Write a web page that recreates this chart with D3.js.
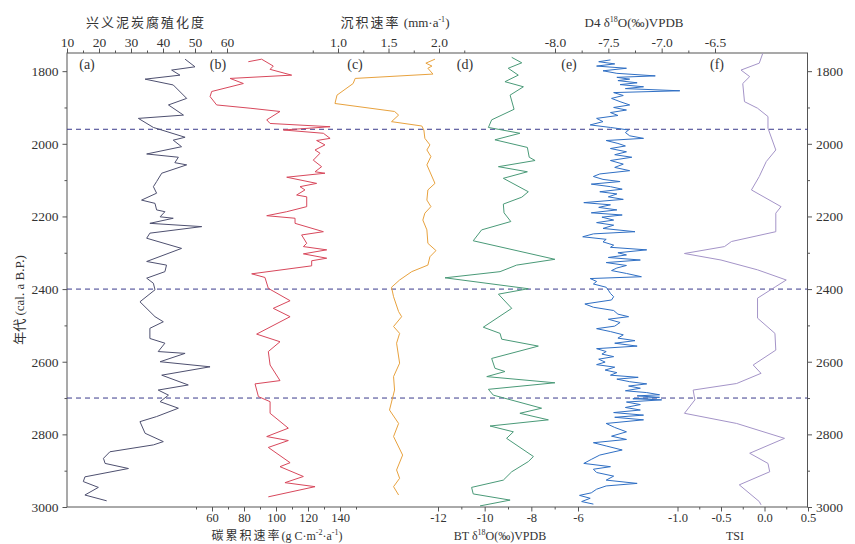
<!DOCTYPE html>
<html>
<head>
<meta charset="utf-8">
<script src="https://cdn.jsdelivr.net/npm/d3@7"></script>
<style>
  body { margin: 0; background: #fff; }
  text { font-family: 'Liberation Serif', 'Times New Roman', 'Noto Sans CJK SC', serif; fill: #333; }
</style>
</head>
<body>
<div class="canvas"></div>
<script>
const width = 855
const height = 544

// [year (cal. a B.P.), value]
const humification = [[1767,46.9],[1788,50.0],[1797,42.7],[1811,45.3],[1822,34.4],[1838,43.2],[1875,47.4],[1893,41.7],[1921,46.4],[1930,32.3],[1955,37.0],[1982,46.9],[1990,43.2],[2008,45.8],[2028,34.9],[2037,44.8],[2052,43.7],[2058,47.4],[2081,39.6],[2104,38.0],[2118,37.0],[2136,38.0],[2155,33.3],[2164,37.5],[2182,38.0],[2187,40.6],[2201,39.1],[2205,43.2],[2219,35.9],[2228,52.1],[2246,35.9],[2260,34.9],[2288,45.8],[2324,34.9],[2334,41.1],[2352,40.6],[2370,34.9],[2384,37.0],[2402,37.5],[2435,32.8],[2476,37.5],[2490,40.1],[2508,35.9],[2536,35.9],[2549,40.6],[2572,38.5],[2577,46.9],[2600,39.1],[2614,54.7],[2637,39.6],[2664,47.9],[2678,38.5],[2692,41.7],[2710,39.1],[2728,44.8],[2751,38.0],[2765,32.8],[2797,34.4],[2820,40.1],[2829,37.0],[2848,23.4],[2866,21.4],[2880,21.9],[2894,29.2],[2917,15.6],[2930,15.1],[2946,19.8],[2967,15.6],[2983,22.4]]

const carbonRate = [[1774,82.7],[1767,91.0],[1786,98.3],[1795,96.3],[1811,109.8],[1820,71.3],[1834,79.6],[1856,59.8],[1870,58.8],[1893,62.9],[1902,83.8],[1911,102.5],[1934,94.2],[1944,96.3],[1953,133.8],[1962,104.6],[1971,129.6],[1985,133.8],[1991,125.4],[2003,130.6],[2017,124.4],[2026,127.5],[2045,123.3],[2063,128.5],[2077,124.4],[2081,130.6],[2092,106.7],[2109,125.4],[2118,115.0],[2127,118.1],[2141,112.9],[2146,119.2],[2173,119.2],[2187,106.7],[2198,94.2],[2205,111.9],[2219,111.9],[2242,129.6],[2251,116.0],[2274,119.2],[2283,117.1],[2292,131.7],[2303,117.1],[2315,131.7],[2322,122.3],[2336,122.3],[2358,84.8],[2368,93.1],[2398,95.2],[2432,108.8],[2453,98.3],[2476,108.8],[2524,87.9],[2545,102.5],[2572,95.2],[2609,96.3],[2652,102.5],[2661,86.9],[2696,89.0],[2710,96.3],[2742,96.3],[2783,107.7],[2806,94.2],[2817,107.7],[2836,95.2],[2878,108.8],[2889,102.5],[2916,117.1],[2933,105.6],[2944,124.4],[2972,95.2]]

const sedRate = [[1767,1.96],[1778,1.87],[1786,1.93],[1792,1.89],[1808,1.94],[1820,1.17],[1834,1.15],[1866,0.99],[1889,0.97],[1911,1.56],[1921,1.60],[1939,1.53],[1951,1.83],[1962,1.85],[1985,1.86],[2003,1.91],[2017,1.88],[2035,1.92],[2058,1.88],[2109,1.96],[2127,1.89],[2155,1.88],[2173,1.92],[2191,1.86],[2210,1.84],[2237,1.88],[2274,1.89],[2294,1.97],[2311,1.91],[2334,1.89],[2352,1.73],[2375,1.61],[2395,1.53],[2421,1.55],[2462,1.60],[2476,1.63],[2503,1.55],[2522,1.61],[2549,1.58],[2604,1.61],[2641,1.55],[2678,1.56],[2733,1.51],[2770,1.60],[2806,1.55],[2857,1.64],[2898,1.58],[2921,1.61],[2944,1.55],[2967,1.60]]

const btO18 = [[1762,-8.84],[1777,-8.41],[1792,-8.99],[1811,-8.56],[1829,-9.13],[1843,-8.34],[1866,-8.91],[1905,-8.74],[1934,-9.70],[1955,-9.84],[1971,-8.49],[1989,-9.56],[2010,-8.17],[2037,-8.09],[2046,-7.84],[2063,-9.41],[2077,-8.17],[2095,-9.20],[2132,-8.13],[2147,-8.41],[2166,-9.20],[2190,-9.17],[2214,-8.88],[2237,-10.13],[2267,-10.49],[2318,-6.99],[2334,-8.63],[2352,-9.34],[2369,-11.70],[2399,-8.13],[2414,-9.41],[2453,-8.84],[2505,-10.06],[2522,-9.34],[2538,-9.27],[2557,-7.70],[2591,-9.70],[2618,-9.56],[2627,-9.13],[2641,-9.91],[2658,-6.99],[2676,-9.84],[2692,-9.63],[2728,-7.56],[2742,-8.49],[2760,-7.27],[2777,-9.77],[2793,-8.77],[2811,-9.06],[2861,-7.91],[2875,-8.13],[2903,-8.84],[2926,-9.20],[2946,-10.56],[2964,-10.49],[2981,-8.91],[2997,-10.20]]

const d4O18 = [[1769,-7.48],[1774,-7.59],[1780,-7.44],[1786,-7.61],[1792,-7.33],[1799,-7.55],[1806,-7.42],[1813,-7.06],[1817,-7.42],[1822,-7.30],[1826,-7.41],[1832,-7.23],[1837,-7.39],[1843,-7.17],[1848,-7.34],[1854,-6.83],[1859,-7.45],[1867,-7.36],[1875,-7.47],[1884,-7.39],[1893,-7.30],[1900,-7.45],[1907,-7.33],[1914,-7.48],[1922,-7.41],[1930,-7.61],[1939,-7.55],[1948,-7.67],[1955,-7.48],[1962,-7.31],[1969,-7.34],[1978,-7.30],[1985,-7.17],[1991,-7.52],[1999,-7.41],[2006,-7.34],[2013,-7.48],[2022,-7.33],[2030,-7.44],[2037,-7.28],[2046,-7.48],[2056,-7.36],[2065,-7.44],[2074,-7.30],[2083,-7.58],[2090,-7.64],[2098,-7.55],[2104,-7.39],[2111,-7.66],[2118,-7.48],[2125,-7.37],[2132,-7.58],[2138,-7.42],[2146,-7.50],[2153,-7.36],[2162,-7.73],[2168,-7.48],[2175,-7.59],[2182,-7.42],[2190,-7.66],[2196,-7.37],[2202,-7.56],[2210,-7.45],[2217,-7.61],[2224,-7.45],[2233,-7.55],[2242,-7.25],[2248,-7.64],[2256,-7.74],[2263,-7.52],[2270,-7.55],[2279,-7.45],[2285,-7.48],[2292,-7.14],[2300,-7.41],[2306,-7.33],[2313,-7.50],[2320,-7.20],[2327,-7.52],[2335,-7.33],[2342,-7.42],[2349,-7.47],[2357,-7.33],[2366,-7.19],[2371,-7.67],[2379,-7.61],[2386,-7.64],[2395,-7.52],[2403,-7.50],[2412,-7.48],[2421,-7.45],[2430,-7.47],[2441,-7.72],[2450,-7.64],[2459,-7.45],[2469,-7.41],[2476,-7.31],[2483,-7.50],[2492,-7.39],[2502,-7.44],[2509,-7.61],[2517,-7.48],[2526,-7.36],[2535,-7.41],[2542,-7.25],[2549,-7.44],[2557,-7.23],[2564,-7.61],[2572,-7.52],[2579,-7.56],[2586,-7.45],[2593,-7.59],[2601,-7.53],[2608,-7.61],[2615,-7.44],[2623,-7.53],[2630,-7.42],[2637,-7.48],[2643,-7.22],[2648,-7.42],[2655,-7.30],[2661,-7.14],[2667,-7.31],[2673,-7.20],[2680,-7.34],[2685,-7.14],[2691,-7.02],[2694,-7.23],[2698,-7.02],[2702,-7.27],[2705,-7.00],[2711,-7.33],[2718,-7.20],[2726,-7.34],[2733,-7.20],[2740,-7.45],[2747,-7.17],[2753,-7.44],[2760,-7.17],[2770,-7.52],[2781,-7.44],[2793,-7.33],[2805,-7.47],[2814,-7.33],[2823,-7.64],[2832,-7.52],[2843,-7.37],[2857,-7.58],[2869,-7.66],[2880,-7.73],[2889,-7.48],[2896,-7.64],[2905,-7.61],[2915,-7.45],[2926,-7.52],[2935,-7.23],[2942,-7.52],[2951,-7.61],[2961,-7.66],[2968,-7.77],[2976,-7.67],[2985,-7.75],[2992,-7.64]]

const tsi = [[1751,-0.02],[1778,-0.06],[1797,-0.27],[1815,-0.17],[1834,-0.25],[1884,-0.23],[1902,-0.08],[1925,0.04],[1957,0.04],[2017,0.13],[2049,0.02],[2090,-0.06],[2127,-0.15],[2173,0.19],[2191,0.13],[2242,0.13],[2269,-0.38],[2283,-0.46],[2302,-0.92],[2320,-0.50],[2347,-0.08],[2375,0.25],[2393,0.13],[2425,-0.08],[2480,-0.08],[2522,0.12],[2568,0.13],[2609,-0.13],[2632,-0.04],[2660,-0.32],[2678,-0.82],[2705,-0.80],[2742,-0.92],[2770,-0.32],[2811,0.23],[2852,-0.17],[2880,0.04],[2903,0.06],[2939,-0.29],[2985,-0.06],[2994,-0.04]]

// ticks
const yearMajor = [1800, 2000, 2200, 2400, 2600, 2800, 3000]
const yearMinor = [1900, 2100, 2300, 2500, 2700, 2900]
const eventYears = [1960, 2400, 2700]
const humMajor = [10, 20, 30, 40, 50, 60]
const humMinor = [15, 25, 35, 45, 55]
const sedMajor = [1.0, 1.5, 2.0]
const sedMinor = [0.75, 1.25, 1.75, 2.25]
const d4Major = [-8.0, -7.5, -7.0, -6.5]
const d4Minor = [-7.75, -7.25, -6.75]
const carbMajor = [60, 80, 100, 120, 140]
const carbMinor = [50, 70, 90, 110, 130, 150]
const btMajor = [-12, -10, -8, -6]
const btMinor = [-11, -9, -7]
const tsiMajor = [-1.0, -0.5, 0.0, 0.5]
const tsiMinor = [-0.75, -0.25, 0.25]

const plotL = 67, plotR = 807.5, plotT = 53, plotB = 507

const svg = d3.select('.canvas')
    .append('svg')
    .attr('width', width)
    .attr('height', height)

const y = d3.scaleLinear().domain([1750, 3000]).range([plotT, plotB])
const xA = d3.scaleLinear().domain([10, 60]).range([67, 227])
const xB = d3.scaleLinear().domain([60, 140]).range([212, 340])
const xC = d3.scaleLinear().domain([1.0, 2.0]).range([338, 439])
const xD = d3.scaleLinear().domain([-12, -6]).range([438, 578])
const xE = d3.scaleLinear().domain([-8, -6.5]).range([555, 715])
const xF = d3.scaleLinear().domain([-1, 0.5]).range([677.5, 808])

const axisColor = '#555'
const fmt1 = d => d.toFixed(1)
const fmt0 = d => String(d)

// axis helper: majors with labels + minors without
function addAxis(axisFn, scale, majors, minors, format, transform, pad, size) {
    const g = svg.append('g').attr('transform', transform)
    g.append('g').call(axisFn(scale).tickValues(minors).tickSize(2.5).tickFormat(''))
    g.append('g').call(axisFn(scale).tickValues(majors).tickSize(4.5).tickPadding(pad).tickFormat(format))
    g.selectAll('.domain').remove()
    g.selectAll('line').attr('stroke', axisColor)
    g.selectAll('text').attr('font-size', size).attr('fill', '#333')
        .style('font-family', "'Liberation Serif','Times New Roman',serif")
    return g
}

addAxis(d3.axisTop, xA, humMajor, humMinor, fmt0, `translate(0,${plotT})`, 2, 13.5)
addAxis(d3.axisTop, xC, sedMajor, sedMinor, fmt1, `translate(0,${plotT})`, 2, 13.5)
addAxis(d3.axisTop, xE, d4Major, d4Minor, fmt1, `translate(0,${plotT})`, 2, 13.5)
addAxis(d3.axisBottom, xB, carbMajor, carbMinor, fmt0, `translate(0,${plotB})`, 1.5, 12.5)
addAxis(d3.axisBottom, xD, btMajor, btMinor, fmt0, `translate(0,${plotB})`, 1.5, 12.5)
addAxis(d3.axisBottom, xF, tsiMajor, tsiMinor, fmt1, `translate(0,${plotB})`, 1.5, 12.5)
addAxis(d3.axisLeft, y, yearMajor, yearMinor, fmt0, `translate(${plotL},0)`, 4, 13.5)
addAxis(d3.axisRight, y, yearMajor, yearMinor, fmt0, `translate(${plotR},0)`, 4, 13.5)

// frame
svg.append('rect')
    .attr('x', plotL).attr('y', plotT)
    .attr('width', plotR - plotL).attr('height', plotB - plotT)
    .attr('fill', 'none')
    .attr('stroke', axisColor)
    .attr('stroke-width', 1)

// dashed event lines
svg.selectAll('.event')
    .data(eventYears)
    .enter()
    .append('line')
    .attr('class', 'event')
    .attr('x1', plotL).attr('x2', plotR)
    .attr('y1', d => y(d)).attr('y2', d => y(d))
    .attr('stroke', '#3a3a8c')
    .attr('stroke-width', 1)
    .attr('stroke-dasharray', '5,4')

// series
const panels = [
    {data: humification, x: xA, color: '#4e5070', label: '(a)', lx: 87},
    {data: carbonRate, x: xB, color: '#d8485c', label: '(b)', lx: 218},
    {data: sedRate, x: xC, color: '#e8a23e', label: '(c)', lx: 355},
    {data: btO18, x: xD, color: '#4a9a78', label: '(d)', lx: 465},
    {data: d4O18, x: xE, color: '#2f6fc4', label: '(e)', lx: 569},
    {data: tsi, x: xF, color: '#a494c8', label: '(f)', lx: 717}
]

panels.forEach(p => {
    const line = d3.line()
        .x(d => p.x(d[1]))
        .y(d => y(d[0]))
    svg.append('path')
        .datum(p.data)
        .attr('d', line)
        .attr('fill', 'none')
        .attr('stroke', p.color)
        .attr('stroke-width', 1)
        .attr('stroke-linejoin', 'round')
    svg.append('text')
        .attr('x', p.lx).attr('y', 69)
        .attr('text-anchor', 'middle')
        .attr('font-size', 14)
        .text(p.label)
})

// axis titles
function title(x, yPos, parts, size) {
    const t = svg.append('text')
        .attr('x', x).attr('y', yPos)
        .attr('text-anchor', 'middle')
        .attr('font-size', size || 13)
        .attr('fill', '#444')
    parts.forEach(p => {
        const s = t.append('tspan').text(p.t)
        if (p.sup) s.attr('font-size', 8).attr('dy', -5)
        if (p.down) s.attr('dy', 5)
        if (p.cjk) s.style('font-family', "'Noto Sans CJK SC',sans-serif").attr('letter-spacing', 2)
    })
    return t
}

title(146, 27, [{t: '兴义泥炭腐殖化度', cjk: true}])
title(395, 27, [{t: '沉积速率', cjk: true}, {t: ' (mm·a'}, {t: '-1', sup: true}, {t: ')', down: true}])
title(634, 27, [{t: 'D4 δ'}, {t: '18', sup: true}, {t: 'O(‰)VPDB', down: true}])
title(277, 540, [{t: '碳累积速率', cjk: true}, {t: '(g C·m'}, {t: '-2', sup: true}, {t: '·a', down: true}, {t: '-1', sup: true}, {t: ')', down: true}], 12)
title(500, 540, [{t: 'BT δ'}, {t: '18', sup: true}, {t: 'O(‰)VPDB', down: true}], 12)
title(735, 540, [{t: 'TSI'}], 12)

svg.append('text')
    .attr('transform', 'translate(24,300) rotate(-90)')
    .attr('text-anchor', 'middle')
    .attr('font-size', 13)
    .attr('fill', '#444')
    .call(t => {
        t.append('tspan').text('年代').style('font-family', "'Noto Sans CJK SC',sans-serif")
        t.append('tspan').text(' (cal. a B.P.)')
    })
</script>
</body>
</html>
